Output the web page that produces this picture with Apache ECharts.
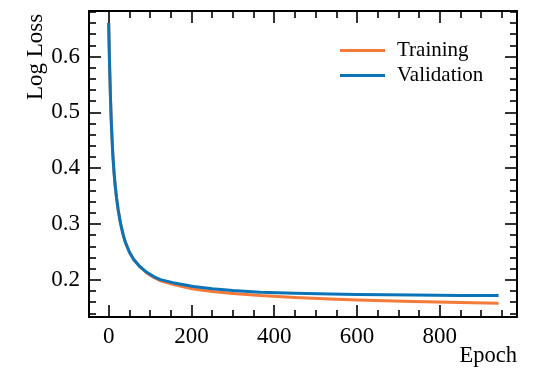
<!DOCTYPE html>
<html>
<head>
<meta charset="utf-8">
<script src="https://cdn.jsdelivr.net/npm/echarts@6/dist/echarts.min.js"></script>
<style>
html,body{margin:0;padding:0;background:#fff;}
#chart{width:533px;height:370px;}
</style>
</head>
<body>
<div id="chart"></div>
<script>
var seriesNames = ['Training', 'Validation'];
var epochs = [0, 2, 4, 6, 8, 10, 13, 16, 19, 23, 29, 35, 40, 50, 60, 75, 92, 110, 125, 155, 175, 205, 250, 300, 366, 450, 535, 600, 736, 850, 942];
var trainLoss = [0.660, 0.590, 0.535, 0.490, 0.455, 0.425, 0.392, 0.367, 0.347, 0.325, 0.300, 0.281, 0.268, 0.250, 0.237, 0.2238, 0.2125, 0.2040, 0.1985, 0.1920, 0.1885, 0.1835, 0.1790, 0.1755, 0.1718, 0.1685, 0.1657, 0.1640, 0.1612, 0.1593, 0.1580];
var valLoss   = [0.660, 0.590, 0.535, 0.490, 0.455, 0.425, 0.392, 0.367, 0.347, 0.325, 0.300, 0.281, 0.268, 0.250, 0.237, 0.2240, 0.2135, 0.2055, 0.2005, 0.1950, 0.1920, 0.1880, 0.1840, 0.1808, 0.1780, 0.1760, 0.1745, 0.1737, 0.1727, 0.1722, 0.1720];
var xMajorTicks = [0, 200, 400, 600, 800];
var xMinorTicks = [-50, 50, 100, 150, 250, 300, 350, 450, 500, 550, 650, 700, 750, 850, 900, 950];
var yMajorTicks = [0.2, 0.3, 0.4, 0.5, 0.6];
var yMinorTicks = [0.14, 0.16, 0.18, 0.22, 0.24, 0.26, 0.28, 0.32, 0.34, 0.36, 0.38, 0.42, 0.44, 0.46, 0.48, 0.52, 0.54, 0.56, 0.58, 0.62, 0.64, 0.66, 0.68];
var xLabel = 'Epoch';
var yLabel = 'Log Loss';

var FONT = '"Liberation Serif", "Times New Roman", serif';
var colors = ['#f47a3a', '#0b74b8'];
var X_MIN = -47.5, X_MAX = 986.5, Y_MIN = 0.1335, Y_MAX = 0.6815;

function pairs(xs, ys) { return xs.map(function (x, i) { return [x, ys[i]]; }); }

function xAx(pos, ticks, len, showLabel, showLine) {
  return {
    type: 'value', position: pos, min: X_MIN, max: X_MAX,
    splitLine: { show: false },
    axisLine: { show: showLine, onZero: false, lineStyle: { color: '#000', width: 2 } },
    axisTick: { show: true, inside: true, length: len, customValues: ticks, lineStyle: { color: '#000', width: 1.6 } },
    axisLabel: { show: showLabel, customValues: ticks, margin: 8, color: '#000', fontFamily: FONT, fontSize: 23 }
  };
}
function yAx(pos, ticks, len, showLabel, showLine) {
  return {
    type: 'value', position: pos, min: Y_MIN, max: Y_MAX,
    splitLine: { show: false },
    axisLine: { show: showLine, onZero: false, lineStyle: { color: '#000', width: 2 } },
    axisTick: { show: true, inside: true, length: len, customValues: ticks, lineStyle: { color: '#000', width: 1.6 } },
    axisLabel: { show: showLabel, customValues: ticks, margin: 9, color: '#000', fontFamily: FONT, fontSize: 23,
      formatter: function (v) { return v.toFixed(1); } }
  };
}

var chart = echarts.init(document.getElementById('chart'), null, { renderer: 'canvas' });
chart.setOption({
  animation: false,
  backgroundColor: '#fff',
  grid: { left: 89, top: 11, right: 16, bottom: 53 },
  xAxis: [
    xAx('bottom', xMajorTicks, 12, true, true),
    xAx('bottom', xMinorTicks, 7, false, false),
    xAx('top', xMajorTicks, 12, false, true),
    xAx('top', xMinorTicks, 7, false, false)
  ],
  yAxis: [
    yAx('left', yMajorTicks, 12, true, true),
    yAx('left', yMinorTicks, 7, false, false),
    yAx('right', yMajorTicks, 12, false, true),
    yAx('right', yMinorTicks, 7, false, false)
  ],
  legend: {
    orient: 'vertical', left: 335, top: 35,
    itemWidth: 45, itemHeight: 3, itemGap: 4,
    icon: 'rect',
    textStyle: { fontFamily: FONT, fontSize: 21, color: '#000', padding: [0, 0, 0, 7], lineHeight: 20.5 },
    data: seriesNames
  },
  graphic: [
    { type: 'text', right: 16, top: 345, style: { text: xLabel, font: '22.5px ' + FONT, fill: '#000' } },
    { type: 'text', x: 24, y: 100, rotation: Math.PI / 2, style: { text: yLabel, font: '23px ' + FONT, fill: '#000', textAlign: 'left', textVerticalAlign: 'top' } }
  ],
  series: [
    { name: seriesNames[0], type: 'line', xAxisIndex: 0, yAxisIndex: 0, data: pairs(epochs, trainLoss),
      showSymbol: false, symbol: 'none', smooth: false, lineStyle: { color: colors[0], width: 3, join: 'round' }, itemStyle: { color: colors[0] } },
    { name: seriesNames[1], type: 'line', xAxisIndex: 0, yAxisIndex: 0, data: pairs(epochs, valLoss),
      showSymbol: false, symbol: 'none', smooth: false, lineStyle: { color: colors[1], width: 3, join: 'round' }, itemStyle: { color: colors[1] } }
  ]
});
</script>
</body>
</html>
